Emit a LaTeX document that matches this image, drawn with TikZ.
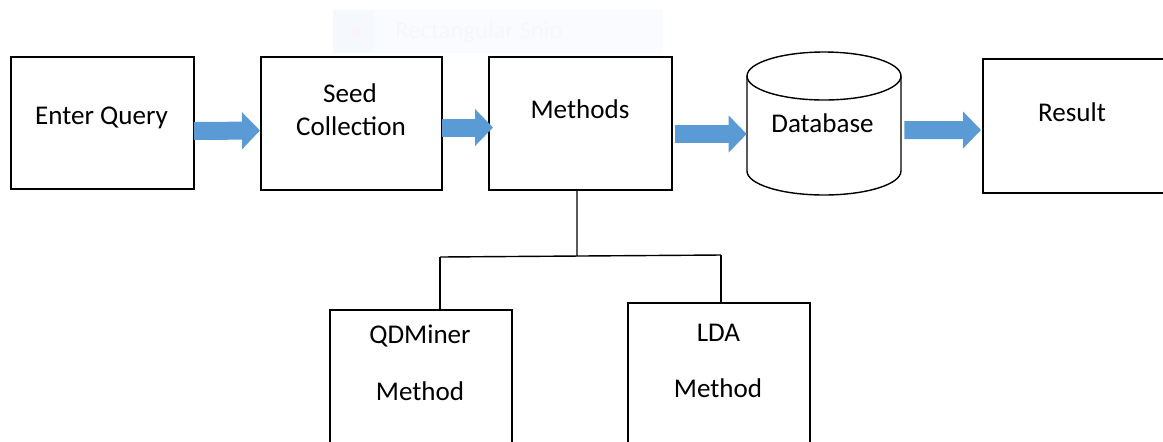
\documentclass[tikz,border=0pt]{standalone}
\usepackage{fontspec}
\setmainfont{Carlito}
\usetikzlibrary{arrows.meta}
\definecolor{arrowblue}{RGB}{91,155,213}
\definecolor{snipbg}{RGB}{249,251,254}
\definecolor{snipicon}{RGB}{245,248,252}
\definecolor{snipdot}{RGB}{249,244,245}
\definecolor{sniptext}{RGB}{246,247,250}
\tikzset{
  box/.style={draw, line width=0.8pt, inner sep=0pt, outer sep=0pt},
  lbl/.style={anchor=base, inner sep=0pt, font=\fontsize{15.4}{18}\selectfont},
  blockarrow/.style={arrowblue, line width=0.36cm,
    -{Triangle[width=0.72cm, length=0.36cm]}},
  tree/.style={line width=0.8pt}
}
\begin{document}
\begin{tikzpicture}[x=0.02cm, y=-0.02cm]
   \clip (0,0) rectangle (1163,441);
   \fill[white] (0,0) rectangle (1163,441);
   % faint snip toolbar left in the screenshot
   \fill[snipbg] (333,10) rectangle (663,53);
   \fill[snipicon] (333,10) rectangle (374,53);
   \fill[snipdot] (355,32) circle (0.09cm);
   \node[anchor=base west, inner sep=0pt, text=sniptext, font=\fontsize{14}{16}\selectfont] (snip) at (395,38) {Rectangular Snip};
   \node[box, minimum width=3.66cm, minimum height=2.64cm] (query) at (102.5,123) {};
   \node[box, minimum width=3.62cm, minimum height=2.66cm] (seed) at (351.5,123.5) {};
   \node[box, minimum width=3.66cm, minimum height=2.66cm] (methods) at (580.5,123.5) {};
   \node[box, minimum width=3.94cm, minimum height=2.68cm] (result) at (1081.5,126) {};
   \node[box, minimum width=3.64cm, minimum height=3.00cm] (qdminer) at (421,385) {};
   \node[box, minimum width=3.64cm, minimum height=3.14cm] (lda) at (719,381.5) {};
   \node[inner sep=0pt, minimum width=3.08cm, minimum height=2.86cm] (db) at (824,123.5) {};
   \draw[line width=0.8pt] (824,76) ellipse [x radius=1.54cm, y radius=0.48cm];
   \draw[line width=0.8pt] (747,76) -- (747,171)
      arc [start angle=180, end angle=360, x radius=1.54cm, y radius=0.48cm] -- (901,76);
   \node[lbl] (queryText) at (101.5,124) {Enter Query};
   \node[lbl] (seedText) at (350,102) {Seed};
   \node[lbl] (collText) at (351,135) {Collection};
   \node[lbl] (methodsText) at (580,118) {Methods};
   \node[lbl] (dbText) at (822.5,132) {Database};
   \node[lbl] (resultText) at (1072,121) {Result};
   \node[lbl] (qdText) at (420,343) {QDMiner};
   \node[lbl] (qdMethod) at (420,400) {Method};
   \node[lbl] (ldaText) at (718.5,341) {LDA};
   \node[lbl] (ldaMethod) at (718,397) {Method};
   \draw[blockarrow] ([yshift=-0.16cm]query.east) -- ([yshift=-0.14cm,xshift=-0.02cm]seed.west);
   \draw[blockarrow] ([yshift=-0.08cm]seed.east) -- ([yshift=-0.08cm,xshift=0.08cm]methods.west);
   \draw[blockarrow] ([yshift=-0.21cm,xshift=0.06cm]methods.east) -- ([yshift=-0.21cm]db.west);
   \draw[blockarrow] ([yshift=-0.13cm,xshift=0.06cm]db.east) -- ([yshift=-0.08cm,xshift=-0.04cm]result.west);
   \coordinate (split) at (577,256);
   \coordinate (lft) at (440,257);
   \coordinate (rgt) at (721,255);
   \draw[tree] ([xshift=-0.07cm]methods.south) -- (split);
   \draw[tree] (lft) -- (rgt);
   \draw[tree] (lft) -- (lft |- qdminer.north);
   \draw[tree] (rgt) -- (rgt |- lda.north);
\end{tikzpicture}
\end{document}
